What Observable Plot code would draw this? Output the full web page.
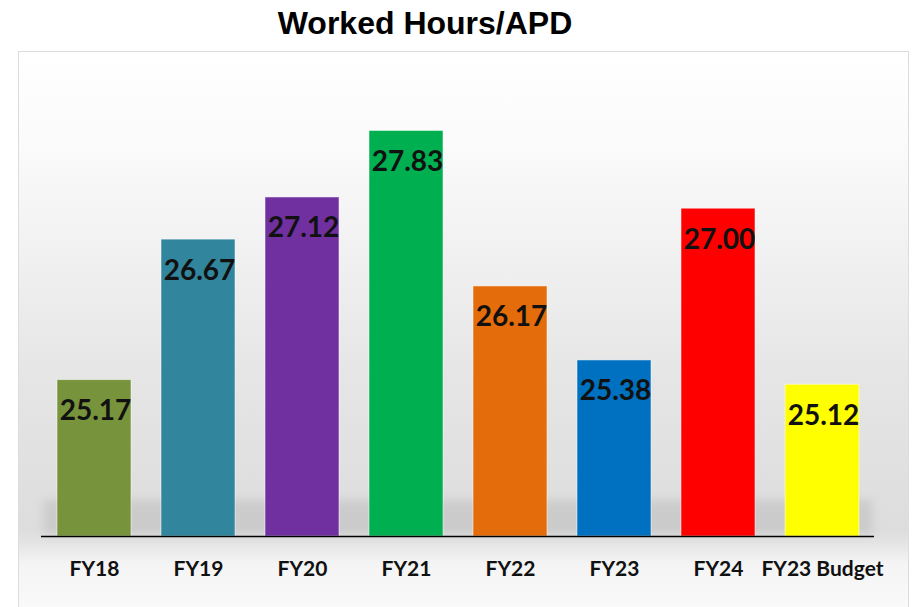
<!DOCTYPE html>
<html>
<head>
<meta charset="utf-8">
<script src="https://cdn.jsdelivr.net/npm/d3@7"></script>
<script src="https://cdn.jsdelivr.net/npm/@observablehq/plot@0.6"></script>
<style>
  html, body { margin: 0; padding: 0; background: #ffffff; }
  #wrap { position: relative; width: 913px; height: 607px; overflow: hidden; background: #fff; }
  #title { position: absolute; left: 0; top: 3px; width: 850px; text-align: center;
           font: bold 32px "Liberation Sans", Arial, sans-serif; line-height: 40px; color: #000; }
  #box { position: absolute; left: 18px; top: 51px; width: 891px; height: 570px;
         border: 1px solid #dcdcdc; box-sizing: border-box;
         background: linear-gradient(to bottom, #ffffff 0%, #fbfbfb 15%, #f1f1f1 35%, #e5e5e5 58%, #dddddd 84%, #e4e4e4 86.5%, #f4f4f4 90%, #fbfbfb 100%); }
  #shadow { position: absolute; left: 44px; top: 500px; width: 828px; height: 34px;
            background: rgba(120,120,120,0.18); filter: blur(4px); }
  #chart { position: absolute; left: 0; top: 46px; }
</style>
</head>
<body>
<div id="wrap">
  <div id="box"></div>
  <div id="shadow"></div>
  <div id="title">Worked Hours/APD</div>
  <div id="chart"></div>
</div>
<script>
const categories = ["FY18", "FY19", "FY20", "FY21", "FY22", "FY23", "FY24", "FY23 Budget"];
const values = [25.17, 26.67, 27.12, 27.83, 26.17, 25.38, 27.00, 25.12];
const colors = ["#77933C", "#31859C", "#7030A0", "#00B050", "#E46C0A", "#0070C0", "#FF0000", "#FFFF00"];
const yDomain = [23.5, 28.7];

const data = categories.map((c, i) => ({category: c, value: values[i], color: colors[i]}));

const chart = Plot.plot({
  width: 913,
  height: 561,
  marginLeft: 41,
  marginRight: 39,
  marginTop: 3,
  marginBottom: 71,
  style: {background: "transparent", fontFamily: "Lato, 'Open Sans', sans-serif", color: "#111"},
  x: {type: "band", domain: categories, paddingInner: 0.29, paddingOuter: 0.145, label: null},
  y: {domain: yDomain, axis: null},
  marks: [
    Plot.barY(data, {x: "category", y1: () => yDomain[0], y2: "value", fill: "color",
                     stroke: "#ffffff", strokeOpacity: 0.5, strokeWidth: 1}),
    Plot.ruleY([yDomain[0]], {stroke: "#000", strokeWidth: 1.5}),
    Plot.text(data, {x: "category", y: "value", text: d => d.value.toFixed(2), dy: 31, dx: 1,
                     fontSize: 28, fontWeight: "bold", fill: "#111"}),
    Plot.axisX({tickSize: 0, tickPadding: 25, fontSize: 21, fontWeight: "bold", label: null})
  ]
});
document.getElementById("chart").appendChild(chart);
</script>
</body>
</html>
